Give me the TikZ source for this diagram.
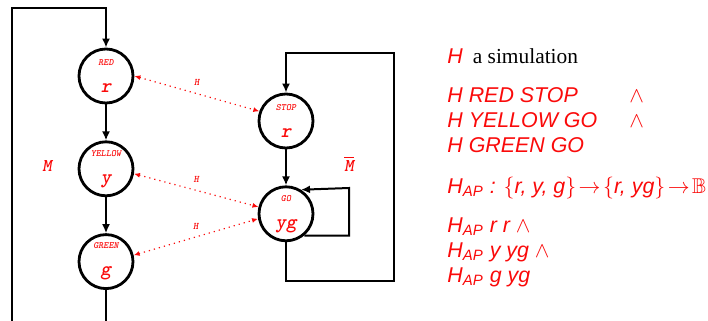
\documentclass[tikz,border=0pt]{standalone}
\usepackage{amssymb}
\usepackage{fontspec}
\newfontfamily\hvfont{Liberation Sans}
\newfontfamily\tmfont{Liberation Serif}
\usepackage{xcolor}
\definecolor{lred}{RGB}{250,10,10}
\usepackage{tikz}
\usetikzlibrary{arrows.meta,positioning}
\newcommand{\statelab}[2]{{\fontsize{4.8}{5}\selectfont #1}\\[1.5pt]{\fontsize{10}{10}\selectfont #2}}

\begin{document}
\begin{tikzpicture}[
  x=0.5pt,y=-0.5pt,
  node distance=18pt and 63pt,
  state/.style={circle,draw,line width=1.4pt,minimum size=27pt,inner sep=0pt,align=center,text=lred,font=\ttfamily\bfseries\itshape},
  trans/.style={-{Latex[length=4.5pt,width=4pt]},line width=1pt},
  hmap/.style={{Latex[length=3pt,width=2.5pt]}-{Latex[length=3pt,width=2.5pt]},lred,dotted,line width=0.6pt},
  tag/.style={text=lred,inner sep=0pt,font=\ttfamily\bfseries\itshape\fontsize{5}{5}\selectfont},
  fact/.style={anchor=base west,inner sep=0pt,text=lred,font=\hvfont\itshape\fontsize{10.7}{12}\selectfont}
]
  \useasboundingbox (0,0) rectangle (708,321);

  % === Model M ===
  \node[state] (red) at (106,76) {\statelab{RED}{r}};
  \node[state,below=of red] (yel) {\statelab{YELLOW}{y}};
  \node[state,below=of yel] (grn) {\statelab{GREEN}{g}};
  \node[font=\ttfamily\bfseries\itshape\fontsize{9}{9}\selectfont,text=lred] (m) at (47,166) {M};

  \coordinate (mbot) at (106,321);
  \coordinate (mtop) at (12,8);
  \draw[trans] (red) -- (yel);
  \draw[trans] (yel) -- (grn);
  \draw[line width=1pt] (grn.south) -- (mbot);
  \draw[trans] (12,321) -- (mtop) -| (red.north);

  % === Model M-bar ===
  \node[state] (stop) at (286,121) {\statelab{STOP}{r}};
  \node[state,below=of stop] (go) {\statelab{GO}{yg}};
  \node[font=\ttfamily\bfseries\itshape\fontsize{9}{9}\selectfont,text=lred] (mbar) at (349,164) {$\overline{\mbox{M}}$};

  \coordinate (rloop) at (394,53);
  \coordinate (selfc) at (349,188);
  \draw[trans] (stop) -- (go);
  \draw[trans] (go.south) -- ++(0,39) -| (rloop) -| (stop.north);
  \draw[trans] (go.-50) -| (selfc) -- (go.58);

  % === Simulation H ===
  \draw[hmap] (red.east) -- node[tag,midway,yshift=5.5pt] (h1) {H} (stop.160);
  \draw[hmap] (yel.-10) -- node[tag,midway,yshift=5.5pt] (h2) {H} (go.166);
  \draw[hmap] (grn.13) -- node[tag,midway,yshift=5.5pt] (h3) {H} (go.190);

  % === Facts ===
  \node[fact] (hsim) at (447,63) {H\hspace{5pt}{\tmfont\upshape\color{black}a simulation}};
  \node[fact] (hred) at (447,102) {H RED STOP};
  \node[fact] (hyel) at (447,127) {H YELLOW GO};
  \node[fact] (hgrn) at (447,152) {H GREEN GO};
  \node[fact] (and1) at (629,102) {$\wedge$};
  \node[fact] (and2) at (629,127) {$\wedge$};
  \node[fact] (hap) at (447,193) {H\textsubscript{AP} : $\{$r, y, g$\}\!\rightarrow\!\{$r, yg$\}\!\rightarrow\!\mathbb{B}$};
  \node[fact] (hr) at (447,232) {H\textsubscript{AP} r r $\wedge$};
  \node[fact] (hy) at (447,257) {H\textsubscript{AP} y yg $\wedge$};
  \node[fact] (hg) at (447,282) {H\textsubscript{AP} g yg};
\end{tikzpicture}
\end{document}
